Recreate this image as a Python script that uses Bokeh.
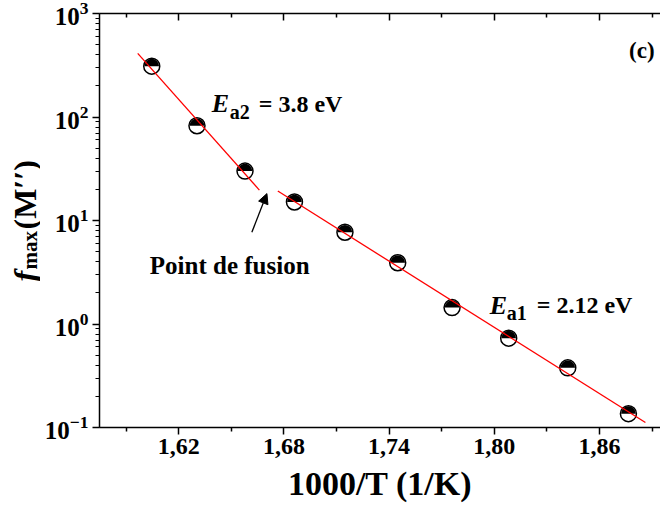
import numpy as np
from bokeh.plotting import figure
from bokeh.layouts import row
from bokeh.models import (Range1d, FixedTicker, CustomJSTickFormatter, LinearAxis,
                          Label, Arrow, NormalHead)
from bokeh.embed import file_html
from bokeh.resources import INLINE

# ---- data ----
inv_T = [1.6046, 1.6304, 1.6578, 1.6860, 1.7148, 1.7449, 1.7759, 1.8082, 1.8419, 1.8765]
f_max = [310.0, 82.4, 30.0, 15.1, 7.7, 3.91, 1.44, 0.73, 0.377, 0.136]
n_high = 3                      # first three points belong to the Ea2 regime
fit2_x = [1.5966, 1.6660]       # extent of the Ea2 fit line
fit1_x = [1.6765, 1.8862]       # extent of the Ea1 fit line
x_ticks = [1.62, 1.68, 1.74, 1.80, 1.86]
x_minor = [1.59, 1.65, 1.71, 1.77, 1.83, 1.89]

FONT = "Liberation Serif"
H = 514
TW = 40  # width of the strip holding the y-axis title

p = figure(width=660 - TW, height=H,
           x_range=Range1d(1.5748, 1.8948), y_range=Range1d(0.1, 1000),
           y_axis_type="log", output_backend="svg", toolbar_location=None,
           min_border_left=99 - TW, min_border_right=0, min_border_top=13, min_border_bottom=87)
p.outline_line_color = None
p.xgrid.visible = False
p.ygrid.visible = False
p.background_fill_color = "white"
p.border_fill_color = "white"

# bottom axis
xa = p.xaxis[0]
xa.ticker = FixedTicker(ticks=x_ticks, minor_ticks=x_minor)
xa.formatter = CustomJSTickFormatter(code="return tick.toFixed(2).replace('.', ',');")
xa.axis_label = "1000/T (1/K)"
xa.axis_label_text_font = FONT
xa.axis_label_text_font_style = "bold"
xa.axis_label_text_font_size = "34px"
xa.axis_label_text_color = "black"
xa.axis_label_standoff = 8
xa.major_label_text_font = FONT
xa.major_label_text_font_style = "bold"
xa.major_label_text_font_size = "24px"
xa.major_label_text_color = "black"
xa.major_label_standoff = 4
xa.axis_line_width = 1.5
xa.major_tick_line_width = 1.5
xa.minor_tick_line_width = 1.5
xa.major_tick_out = 7
xa.major_tick_in = 0
xa.minor_tick_out = 4
xa.minor_tick_in = 0

# left axis
ya = p.yaxis[0]
ya.major_label_text_font = FONT
ya.major_label_text_font_style = "bold"
ya.major_label_text_font_size = "25px"
ya.major_label_text_color = "black"
ya.major_label_standoff = 4
ya.axis_line_width = 1.5
ya.major_tick_line_width = 1.5
ya.minor_tick_line_width = 1.2
ya.major_tick_out = 7
ya.major_tick_in = 0
ya.minor_tick_out = 4
ya.minor_tick_in = 0

# top mirror axis (ticks inward, no labels)
top = LinearAxis(ticker=FixedTicker(ticks=x_ticks, minor_ticks=x_minor),
                 formatter=CustomJSTickFormatter(code="return '';"),
                 major_tick_in=7, major_tick_out=0, minor_tick_in=4, minor_tick_out=0,
                 major_label_standoff=0,
                 axis_line_width=1.5, major_tick_line_width=1.5, minor_tick_line_width=1.5)
p.add_layout(top, "above")

# markers: white circle with black upper half
xs = np.array(inv_T)
ys = np.array(f_max)
p.scatter(xs, ys, marker="circle", size=16, fill_color="white", line_color="black", line_width=1.5)
p.wedge(xs, ys, radius=7.3, radius_units="screen", start_angle=0, end_angle=np.pi,
        fill_color="black", line_color=None)

# fit lines (least squares in log space)
lx = np.log10(ys)
c2 = np.polyfit(xs[:n_high], lx[:n_high], 1)
c1 = np.polyfit(xs[n_high:], lx[n_high:], 1)
f2x = np.array(fit2_x)
f1x = np.array(fit1_x)
p.line(f2x, 10 ** np.polyval(c2, f2x), line_color="red", line_width=1.3)
p.line(f1x, 10 ** np.polyval(c1, f1x), line_color="red", line_width=1.3)

# arrow to the melting point
p.add_layout(Arrow(end=NormalHead(size=10, fill_color="black", line_color="black"),
                   x_start=1.6617, y_start=7.7, x_end=1.6703, y_end=18.2,
                   line_color="black", line_width=1.3))


def lab(fig, text, x, y, size, style="bold", dx=0, dy=0, align="left", angle=0):
    fig.add_layout(Label(x=x, y=y, x_offset=dx, y_offset=dy, text=text, text_font=FONT,
                         text_font_size=size, text_font_style=style, text_align=align,
                         text_baseline="alphabetic", angle=angle, text_color="black"))


# Ea2 annotation
lab(p, "E", 1.6388, 134, "26px", "bold italic")
lab(p, "a2", 1.6388, 134, "20px", dx=18, dy=-8)
lab(p, "= 3.8 eV", 1.6388, 134, "24px", dx=47)
# Ea1 annotation
lab(p, "E", 1.7974, 1.51, "26px", "bold italic")
lab(p, "a1", 1.7974, 1.51, "20px", dx=17, dy=-8)
lab(p, "= 2.12 eV", 1.7974, 1.51, "24px", dx=47)
# melting point
lab(p, "Point de fusion", 1.6035, 3.66, "25px")
# panel tag
lab(p, "(c)", 1.8914, 441, "23px", align="right")

# y axis title strip: f_max(M'')  (its frame is aligned with the main frame, 414 px tall)
FH = 414
t = figure(width=TW, height=H, x_range=Range1d(0, TW), y_range=Range1d(0, FH),
           output_backend="svg", toolbar_location=None,
           x_axis_location=None, y_axis_location=None,
           min_border_left=0, min_border_right=0, min_border_top=13, min_border_bottom=87)
t.outline_line_color = None
t.xgrid.visible = False
t.ygrid.visible = False
t.background_fill_color = "white"
t.border_fill_color = "white"
Y0 = 146
lab(t, "f", 24, Y0, "32px", "bold italic", angle=np.pi / 2)
lab(t, "max", 29, Y0 + 12, "21px", angle=np.pi / 2)
lab(t, "(M′′)", 24, Y0 + 52, "32px", angle=np.pi / 2)

layout = row(t, p, spacing=0)
open("out.html", "w").write(file_html(layout, INLINE))
